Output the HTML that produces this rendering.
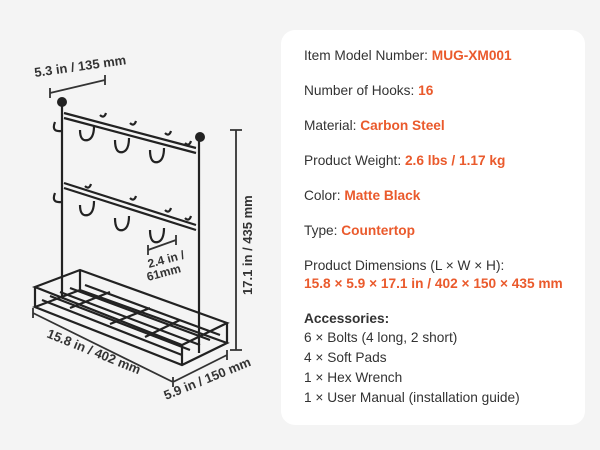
<!DOCTYPE html>
<html><head><meta charset="utf-8"><style>
body{margin:0;width:600px;height:450px;background:#f4f4f4;position:relative;overflow:hidden;font-family:"Liberation Sans",sans-serif;color:#333}
.card{position:absolute;left:281px;top:30px;width:304px;height:395px;background:#fff;border-radius:14px}
.t{position:absolute;left:304px;font-size:13.7px;white-space:nowrap;line-height:16px}
.o{color:#ea5a2c;font-weight:bold}
</style></head><body>
<div class="card"></div>
<div class="t" style="top:48px">Item Model Number: <span class="o">MUG-XM001</span></div>
<div class="t" style="top:83px">Number of Hooks: <span class="o">16</span></div>
<div class="t" style="top:118px">Material: <span class="o">Carbon Steel</span></div>
<div class="t" style="top:153px">Product Weight: <span class="o">2.6 lbs / 1.17 kg</span></div>
<div class="t" style="top:188px">Color: <span class="o">Matte Black</span></div>
<div class="t" style="top:223px">Type: <span class="o">Countertop</span></div>
<div class="t" style="top:258px">Product Dimensions (L × W × H):</div>
<div class="t o" style="top:276px">15.8 × 5.9 × 17.1 in / 402 × 150 × 435 mm</div>
<div class="t" style="top:311px;font-weight:bold">Accessories:</div>
<div class="t" style="top:330px">6 × Bolts (4 long, 2 short)</div>
<div class="t" style="top:350px">4 × Soft Pads</div>
<div class="t" style="top:370px">1 × Hex Wrench</div>
<div class="t" style="top:390px">1 × User Manual (installation guide)</div>
<svg width="280" height="450" style="position:absolute;left:0;top:0" font-family="Liberation Sans,sans-serif" font-weight="bold" font-size="13" fill="#333">
<g stroke="#333" stroke-width="1.8" fill="none">
<path d="M50 93 L105 80 M50 88 L50 98 M105 75 L105 85"/>
<path d="M236 130 V350 M230 130 H242 M230 350 H242"/>
<path d="M148 250 L176 240 M148 245 V255 M176 235 V245"/>
<path d="M33 313 L173 382 M33 308 V318 M173 377 V387 M173 382 L227 355 M227 350 V360"/>
</g>
<g stroke="#222" stroke-width="2.2" fill="none">
<path d="M62 106 V297 M199 141 V353 M64 113 L196 148 M64 118 L196 153 M64 183 L196 225 M64 188 L196 230"/>
<path d="M35 287 L80 270 L227 323 L182 345 Z M35 307 L80 290 L227 343 L182 365 Z M35 287 V307 M182 345 V365 M227 323 V343 M80 270 V290"/>
<path d="M42 300 L182 355 M50 296 L190 350 M60 292 L200 345 M70 288 L210 340 M85 285 L220 335 M110 292 L70 308 M150 308 L110 324 M180 320 L145 337"/>
<path d="M55 122 q-4 10 6 9 M80 130 q0 12 8 10 q6 -2 6 -14 M115 140 q0 14 8 12 q6 -2 6 -14 M150 150 q0 14 8 12 q6 -2 6 -14 M100 115 q4 4 6 -2 M130 123 q4 4 6 -2 M165 133 q4 4 6 -2 M185 143 q4 4 6 -2"/>
<path d="M55 193 q-4 10 6 9 M80 205 q0 12 8 10 q6 -2 6 -14 M115 218 q0 14 8 12 q6 -2 6 -14 M150 230 q0 14 8 12 q6 -2 6 -14 M85 186 q4 4 6 -2 M130 198 q4 4 6 -2 M165 210 q4 4 6 -2 M185 218 q4 4 6 -2"/>
</g>
<circle cx="62" cy="102" r="5" fill="#222"/><circle cx="200" cy="137" r="5" fill="#222"/>
<text transform="translate(35,77) rotate(-8)">5.3 in / 135 mm</text>
<text transform="translate(252,295) rotate(-90)">17.1 in / 435 mm</text>
<text transform="translate(149,268) rotate(-15)" font-size="12">2.4 in /</text>
<text transform="translate(148,281) rotate(-15)" font-size="12">61mm</text>
<text transform="translate(46,337) rotate(22)">15.8 in / 402 mm</text>
<text transform="translate(166,400) rotate(-22)">5.9 in / 150 mm</text>
</svg>
</body></html>
